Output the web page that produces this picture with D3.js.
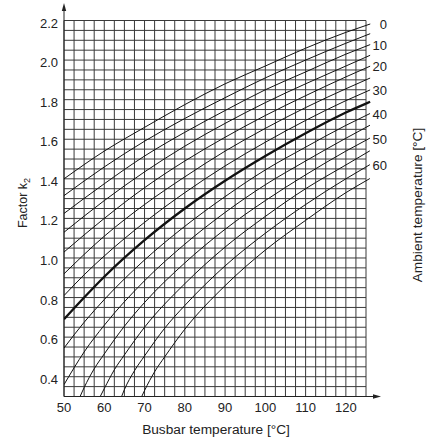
<!DOCTYPE html>
<html>
<head>
<meta charset="utf-8">
<script src="https://cdn.jsdelivr.net/npm/d3@7"></script>
<style>
  html, body { margin: 0; padding: 0; background: #fff; }
  svg { display: block; font-family: "Liberation Sans", Arial, Helvetica, sans-serif; }
</style>
</head>
<body>
<svg id="chart" width="432" height="439"></svg>
<script>
// ---- data ----
const xTicks = [50, 60, 70, 80, 90, 100, 110, 120];
const yTicks = [0.4, 0.6, 0.8, 1.0, 1.2, 1.4, 1.6, 1.8, 2.0, 2.2];
const ambientTemps = [0, 5, 10, 15, 20, 25, 30, 35, 40, 45, 50, 55, 60, 65];
const labelledAmbients = [0, 10, 20, 30, 40, 50, 60];
const boldAmbient = 35;

// each curve: [busbar temperature °C, factor k2]
const ambient0  = [[50,1.40],[60,1.54],[70,1.66],[80,1.775],[90,1.88],[100,1.97],[110,2.06],[120,2.14],[125,2.175]];
const ambient5  = [[50,1.315],[60,1.46],[70,1.59],[80,1.705],[90,1.81],[100,1.91],[110,2.0],[120,2.085],[125,2.125]];
const ambient10 = [[50,1.225],[60,1.375],[70,1.515],[80,1.635],[90,1.745],[100,1.85],[110,1.94],[120,2.03],[125,2.07]];
const ambient15 = [[50,1.13],[60,1.29],[70,1.435],[80,1.565],[90,1.68],[100,1.785],[110,1.88],[120,1.97],[125,2.015]];
const ambient20 = [[50,1.03],[60,1.20],[70,1.355],[80,1.49],[90,1.61],[100,1.72],[110,1.82],[120,1.915],[125,1.96]];
const ambient25 = [[50,0.92],[60,1.11],[70,1.27],[80,1.41],[90,1.54],[100,1.655],[110,1.76],[120,1.855],[125,1.90]];
const ambient30 = [[50,0.81],[55,0.915],[60,1.01],[70,1.18],[80,1.33],[90,1.465],[100,1.585],[110,1.695],[120,1.795],[125,1.84]];
const ambient35 = [[50,0.69],[55,0.80],[60,0.905],[70,1.09],[80,1.25],[90,1.39],[100,1.515],[110,1.63],[120,1.735],[125,1.78]];
const ambient40 = [[50,0.545],[55,0.675],[60,0.79],[70,0.99],[80,1.16],[90,1.31],[100,1.445],[110,1.56],[120,1.67],[125,1.72]];
const ambient45 = [[50,0.36],[52.5,0.445],[55,0.525],[60,0.66],[70,0.885],[80,1.07],[90,1.23],[100,1.37],[110,1.49],[120,1.605],[125,1.66]];
const ambient50 = [[54,0.30],[55,0.345],[57.5,0.44],[60,0.515],[65,0.655],[70,0.775],[80,0.975],[90,1.145],[100,1.29],[110,1.42],[120,1.54],[125,1.595]];
const ambient55 = [[59,0.30],[60,0.34],[62.5,0.435],[65,0.51],[70,0.65],[80,0.87],[90,1.055],[100,1.21],[110,1.35],[120,1.47],[125,1.53]];
const ambient60 = [[64.3,0.30],[65,0.335],[67.5,0.43],[70,0.505],[75,0.645],[80,0.76],[90,0.96],[100,1.125],[110,1.27],[120,1.40],[125,1.46]];
const ambient65 = [[69.3,0.30],[70,0.33],[72.5,0.425],[75,0.50],[80,0.64],[90,0.86],[100,1.04],[110,1.19],[120,1.33],[125,1.39]];
const curves = [ambient0, ambient5, ambient10, ambient15, ambient20, ambient25, ambient30,
                ambient35, ambient40, ambient45, ambient50, ambient55, ambient60, ambient65];

const xTitle = "Busbar temperature [°C]";
const rightTitle = "Ambient temperature [°C]";

// ---- layout ----
const svg = d3.select("#chart");
const x = d3.scaleLinear().domain([50, 125]).range([64, 366]);
const y = d3.scaleLinear().domain([0.3, 2.2]).range([396.5, 20.5]);

const gridColor = "#3a3a3a";

// grid
const gx = d3.range(50, 125.001, 2.5);
const gy = d3.range(0.3, 2.2001, 0.05);
const grid = svg.append("g");
grid.selectAll("line.v").data(gx).join("line")
  .attr("x1", d => x(d)).attr("x2", d => x(d))
  .attr("y1", y(2.2)).attr("y2", y(0.3))
  .attr("stroke", gridColor).attr("stroke-width", 1);
grid.selectAll("line.h").data(gy).join("line")
  .attr("y1", d => y(d)).attr("y2", d => y(d))
  .attr("x1", x(50)).attr("x2", x(125))
  .attr("stroke", gridColor).attr("stroke-width", 1);

// axis arrows
svg.append("line").attr("x1", x(50)).attr("x2", x(50)).attr("y1", y(0.3)).attr("y2", 8)
  .attr("stroke", "#222").attr("stroke-width", 1);
svg.append("path").attr("d", `M${x(50)},3 L${x(50)-2.2},11 L${x(50)+2.2},11 Z`).attr("fill", "#222");
svg.append("line").attr("x1", x(50)).attr("x2", 376).attr("y1", y(0.3)).attr("y2", y(0.3))
  .attr("stroke", "#222").attr("stroke-width", 1);
svg.append("path").attr("d", `M381,${y(0.3)} L373,${y(0.3)-2.2} L373,${y(0.3)+2.2} Z`).attr("fill", "#222");

// tick labels
svg.append("g").selectAll("text").data(yTicks).join("text")
  .attr("x", 58).attr("y", d => y(d) + 7)
  .attr("text-anchor", "end").attr("font-size", 13).attr("fill", "#222")
  .text(d => d.toFixed(1));
svg.append("g").selectAll("text").data(xTicks).join("text")
  .attr("x", d => x(d)).attr("y", 411.5)
  .attr("text-anchor", "middle").attr("font-size", 13).attr("fill", "#222")
  .text(d => d);

// curves
svg.append("clipPath").attr("id", "clip").append("rect")
  .attr("x", x(50)).attr("y", 0).attr("width", 372 - x(50)).attr("height", y(0.3));
const line = d3.line().x(d => x(d[0])).y(d => y(d[1])).curve(d3.curveMonotoneX);
const cg = svg.append("g").attr("clip-path", "url(#clip)");
curves.forEach((pts, i) => {
  const amb = ambientTemps[i];
  const w = amb === boldAmbient ? 2.3 : 1;
  cg.append("path").attr("d", line(pts)).attr("fill", "none")
    .attr("stroke", "#111").attr("stroke-width", w);
  // short leader continuing beyond the frame
  const a = pts[pts.length - 2], b = pts[pts.length - 1];
  const dx = x(b[0]) - x(a[0]), dy = y(b[1]) - y(a[1]);
  const len = Math.hypot(dx, dy), ext = 4.5;
  svg.append("line")
    .attr("x1", x(b[0])).attr("y1", y(b[1]))
    .attr("x2", x(b[0]) + dx / len * ext).attr("y2", y(b[1]) + dy / len * ext)
    .attr("stroke", "#111").attr("stroke-width", w);
  if (labelledAmbients.includes(amb)) {
    svg.append("text").attr("x", 387).attr("y", y(b[1]) + 3.5)
      .attr("text-anchor", "end").attr("font-size", 13).attr("fill", "#222")
      .text(amb);
  }
});

// titles
svg.append("text").attr("x", 216).attr("y", 433.5).attr("text-anchor", "middle")
  .attr("font-size", 13.7).attr("fill", "#222").text(xTitle);

const yt = svg.append("text").attr("transform", "translate(26.5,203) rotate(-90)")
  .attr("text-anchor", "middle").attr("font-size", 12.5).attr("fill", "#222");
yt.append("tspan").text("Factor k");
yt.append("tspan").attr("font-size", 9).attr("dy", 3).text("2");

svg.append("text").attr("transform", "translate(422,205) rotate(-90)")
  .attr("text-anchor", "middle").attr("font-size", 13.7).attr("fill", "#222").text(rightTitle);
</script>
</body>
</html>
